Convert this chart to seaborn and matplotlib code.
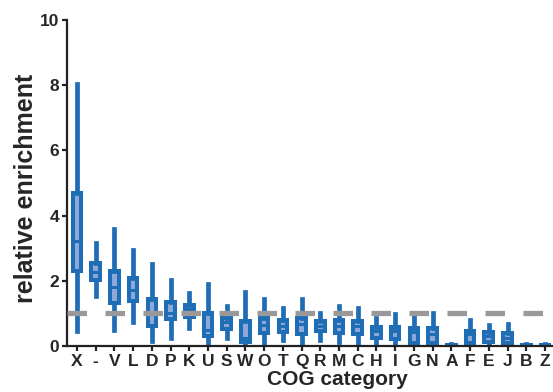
import numpy as np
import pandas as pd
import matplotlib
matplotlib.use("Agg")
import matplotlib.pyplot as plt
import seaborn as sns

# COG categories and five-number summaries
categories = ["X", "-", "V", "L", "D", "P", "K", "U", "S", "W", "O", "T", "Q",
              "R", "M", "C", "H", "I", "G", "N", "A", "F", "E", "J", "B", "Z"]
whisk_low = [0.46, 1.53, 0.49, 0.74, 0.15, 0.25, 0.55, 0.00, 0.25, 0.00, 0.10, 0.18, 0.09,
             0.18, 0.12, 0.09, 0.00, 0.00, 0.00, 0.00, 0.00, 0.00, 0.00, 0.00, 0.00, 0.00]
q1 = [2.30, 2.02, 1.32, 1.38, 0.61, 0.83, 0.90, 0.31, 0.52, 0.12, 0.40, 0.43, 0.37,
      0.46, 0.40, 0.37, 0.25, 0.21, 0.09, 0.09, 0.01, 0.09, 0.12, 0.09, 0.01, 0.01]
median = [3.22, 2.27, 1.80, 1.72, 1.00, 1.00, 1.13, 0.49, 0.74, 0.25, 0.64, 0.62, 0.67,
          0.62, 0.60, 0.62, 0.45, 0.46, 0.43, 0.37, 0.02, 0.37, 0.30, 0.25, 0.02, 0.02]
q3 = [4.69, 2.55, 2.30, 2.08, 1.44, 1.35, 1.26, 1.00, 0.86, 0.77, 0.86, 0.80, 0.86,
      0.77, 0.80, 0.77, 0.58, 0.58, 0.55, 0.55, 0.04, 0.46, 0.43, 0.40, 0.04, 0.04]
whisk_high = [8.04, 3.16, 3.59, 2.94, 2.52, 2.02, 1.63, 1.90, 1.23, 1.66, 1.44, 1.17, 1.44,
              1.00, 1.23, 1.17, 0.86, 0.98, 0.95, 1.00, 0.05, 0.80, 0.64, 0.67, 0.05, 0.05]
baseline = 1.0

# five points per category -> quartiles land exactly on the summary values
rows = []
for i, cat in enumerate(categories):
    for v in (whisk_low[i], q1[i], median[i], q3[i], whisk_high[i]):
        rows.append({"cog": cat, "value": v})
df = pd.DataFrame(rows)

edge = "#1f6db4"
fill = "#8ea8d8"

sns.set_style("ticks")
plt.rcParams["font.family"] = ["Liberation Sans", "DejaVu Sans"]
plt.rcParams["font.weight"] = "bold"

fig = plt.figure(figsize=(5.53, 3.92), dpi=100)
ax = fig.add_axes([67 / 553, 46 / 392, 486 / 553, 326 / 392])

sns.boxplot(
    data=df, x="cog", y="value", order=categories, ax=ax,
    color=fill, linecolor=edge, saturation=1, width=0.46, linewidth=2.9,
    whis=(0, 100), showfliers=False, capwidths=0.01,
    whiskerprops=dict(linewidth=3.4, solid_capstyle="projecting"),
    capprops=dict(linewidth=0),
    medianprops=dict(linewidth=2.2),
)

ax.axhline(baseline, color="#999999", lw=3.8, dashes=(3.7, 3.5), zorder=5)

ax.set_xlim(-0.53, 25.43)
ax.set_ylim(0, 10)
ax.set_yticks([0, 2, 4, 6, 8, 10])
sns.despine(ax=ax)
for s in ("left", "bottom"):
    ax.spines[s].set_linewidth(1.6)
    ax.spines[s].set_color("#222222")
ax.tick_params(axis="both", length=3.5, width=1.6, color="#222222", labelsize=12.5, pad=2)
for lab in ax.get_xticklabels() + ax.get_yticklabels():
    lab.set_fontweight("bold")

ax.set_xlabel("COG category", fontsize=15, fontweight="bold")
ax.set_ylabel("relative enrichment", fontsize=18, fontweight="bold")
ax.xaxis.set_label_coords(0.556, -0.075)
ax.yaxis.set_label_coords(-0.06, 0.485)

fig.savefig("out.png", dpi=100)
